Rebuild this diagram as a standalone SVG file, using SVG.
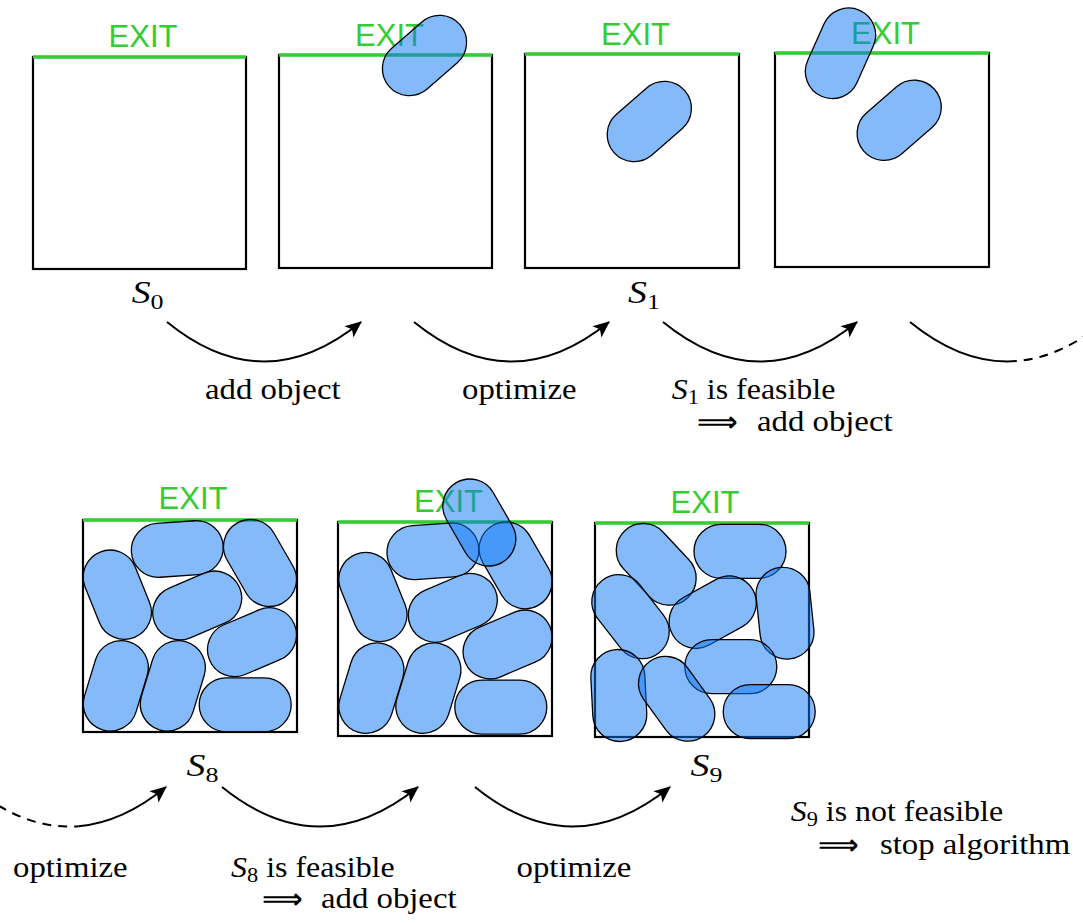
<svg xmlns="http://www.w3.org/2000/svg" xmlns:xlink="http://www.w3.org/1999/xlink" width="1083" height="923" viewBox="0 0 1083 923">
<style>
.box{fill:none;stroke:#000;stroke-width:2.2}
.exitline{stroke:#33cc33;stroke-width:3.5}
.exit{font-family:"Liberation Sans",Arial,sans-serif;font-size:31px;fill:#33cc33;text-anchor:middle}
.pill{fill:#0a75f5;fill-opacity:0.5;stroke:#000;stroke-width:1.3}
.lbl{font-family:"Liberation Serif","Times New Roman",serif;font-size:28.5px;fill:#000}
.st{font-family:"Liberation Serif","Times New Roman",serif;font-size:32px;fill:#000}
.arr{font-family:"DejaVu Sans",sans-serif;font-size:27px;font-weight:bold;fill:#000}
.conn{fill:none;stroke:#000;stroke-width:2}
.dash{stroke-dasharray:9 7}
</style>
<defs>
<rect id="pill" x="-46" y="-27" width="92" height="54" rx="27" ry="27"/>
<rect id="pillL" x="-47" y="-27" width="94" height="54" rx="27" ry="27"/>
<marker id="ah" markerUnits="userSpaceOnUse" markerWidth="20" markerHeight="20" viewBox="-16 -8 18 16" refX="0" refY="0" orient="auto">
<path d="M1,0 L-14,-6.5 L-10.5,0 L-14,6.5 Z" fill="#000"/>
</marker>
</defs>

<g id="state-s0">
<rect class="box" x="33" y="57" width="213" height="212"/>
<line class="exitline" x1="33" y1="57" x2="246" y2="57"/>
<text class="exit" x="143" y="46.7">EXIT</text>
</g>

<g id="state-s0-added">
<rect class="box" x="279" y="55" width="213" height="213"/>
<line class="exitline" x1="279" y1="55" x2="492" y2="55"/>
<text class="exit" x="389.5" y="46">EXIT</text>
<use class="pill" xlink:href="#pillL" href="#pillL" transform="translate(424.5,55.5) rotate(-41)"/>
</g>

<g id="state-s1">
<rect class="box" x="525" y="54" width="214" height="214"/>
<line class="exitline" x1="525" y1="54" x2="739" y2="54"/>
<text class="exit" x="635.5" y="45">EXIT</text>
<use class="pill" xlink:href="#pillL" href="#pillL" transform="translate(649.3,121.5) rotate(-41)"/>
</g>

<g id="state-s1-added">
<rect class="box" x="775" y="53" width="214" height="214"/>
<line class="exitline" x1="775" y1="53" x2="989" y2="53"/>
<text class="exit" x="885.5" y="43.5">EXIT</text>
<use class="pill" xlink:href="#pillL" href="#pillL" transform="translate(840.5,53.3) rotate(-66)"/>
<use class="pill" xlink:href="#pillL" href="#pillL" transform="translate(899.2,120.3) rotate(-41)"/>
</g>

<g id="state-s8">
<rect class="box" x="83" y="520" width="214" height="212"/>
<line class="exitline" x1="83" y1="520" x2="297" y2="520"/>
<text class="exit" x="193" y="509">EXIT</text>
<use class="pill" xlink:href="#pill" href="#pill" transform="translate(177.3,549) rotate(-4)"/>
<use class="pill" xlink:href="#pill" href="#pill" transform="translate(260,563) rotate(60)"/>
<use class="pill" xlink:href="#pill" href="#pill" transform="translate(117.3,594.7) rotate(68)"/>
<use class="pill" xlink:href="#pill" href="#pill" transform="translate(197.2,605.5) rotate(-23)"/>
<use class="pill" xlink:href="#pill" href="#pill" transform="translate(252,642.2) rotate(-23)"/>
<use class="pill" xlink:href="#pill" href="#pill" transform="translate(115.8,685.8) rotate(-73)"/>
<use class="pill" xlink:href="#pill" href="#pill" transform="translate(172.8,685.8) rotate(-73)"/>
<use class="pill" xlink:href="#pill" href="#pill" transform="translate(245.2,704.8)"/>
</g>

<g id="state-s8-added">
<rect class="box" x="338" y="522" width="214" height="214"/>
<line class="exitline" x1="338" y1="522" x2="552" y2="522"/>
<text class="exit" x="448.5" y="512">EXIT</text>
<use class="pill" xlink:href="#pill" href="#pill" transform="translate(432.9,551.3) rotate(-4)"/>
<use class="pill" xlink:href="#pill" href="#pill" transform="translate(515.6,565.3) rotate(60)"/>
<use class="pill" xlink:href="#pill" href="#pill" transform="translate(372.9,597) rotate(68)"/>
<use class="pill" xlink:href="#pill" href="#pill" transform="translate(452.8,607.8) rotate(-23)"/>
<use class="pill" xlink:href="#pill" href="#pill" transform="translate(507.6,644.5) rotate(-23)"/>
<use class="pill" xlink:href="#pill" href="#pill" transform="translate(371.4,688.1) rotate(-73)"/>
<use class="pill" xlink:href="#pill" href="#pill" transform="translate(428.4,688.1) rotate(-73)"/>
<use class="pill" xlink:href="#pill" href="#pill" transform="translate(500.8,707.1)"/>
<use class="pill" xlink:href="#pill" href="#pill" transform="translate(479.3,522.5) rotate(60)"/>
</g>

<g id="state-s9">
<rect class="box" x="595" y="523" width="214" height="214"/>
<line class="exitline" x1="595" y1="523" x2="809" y2="523"/>
<text class="exit" x="705" y="513">EXIT</text>
<use class="pill" xlink:href="#pill" href="#pill" transform="translate(656.2,564.3) rotate(47)"/>
<use class="pill" xlink:href="#pill" href="#pill" transform="translate(740,551.3)"/>
<use class="pill" xlink:href="#pill" href="#pill" transform="translate(630.5,616.7) rotate(52)"/>
<use class="pill" xlink:href="#pill" href="#pill" transform="translate(712.7,612.2) rotate(-29)"/>
<use class="pill" xlink:href="#pill" href="#pill" transform="translate(785,613.2) rotate(84)"/>
<use class="pill" xlink:href="#pill" href="#pill" transform="translate(730.8,666.7)"/>
<use class="pill" xlink:href="#pill" href="#pill" transform="translate(618.8,695.5) rotate(87)"/>
<use class="pill" xlink:href="#pill" href="#pill" transform="translate(676.7,698.8) rotate(54)"/>
<use class="pill" xlink:href="#pill" href="#pill" transform="translate(769.2,711.7)"/>
</g>

<g id="connectors">
<path class="conn" d="M167,322 Q264,401 361,322" marker-end="url(#ah)"/>
<path class="conn" d="M414,322 Q511.5,401 609,322" marker-end="url(#ah)"/>
<path class="conn" d="M663,322 Q760,401 857,322" marker-end="url(#ah)"/>
<path class="conn" d="M910,322 Q963.35,365.45 1016.8,361.1"/>
<path class="conn dash" stroke-dashoffset="9" d="M1016.8,361.1 Q1060.35,357.55 1104,322"/>
<path class="conn dash" d="M-28,787 Q25.35,830.45 78.7,826.2"/>
<path class="conn" d="M78.7,826.2 Q122.35,822.55 166,787" marker-end="url(#ah)"/>
<path class="conn" d="M222,787 Q320,866 418,787" marker-end="url(#ah)"/>
<path class="conn" d="M475,787 Q572.5,866 670,787" marker-end="url(#ah)"/>
</g>

<g id="labels">
<text class="st" transform="translate(131.7,303) scale(1.18,1)"><tspan font-style="italic">S</tspan><tspan font-size="22" dy="6">0</tspan></text>
<text class="st" transform="translate(628,303) scale(1.18,1)"><tspan font-style="italic">S</tspan><tspan font-size="22" dy="6">1</tspan></text>
<text class="st" transform="translate(186.5,776) scale(1.18,1)"><tspan font-style="italic">S</tspan><tspan font-size="22" dy="6">8</tspan></text>
<text class="st" transform="translate(690.6,776) scale(1.18,1)"><tspan font-style="italic">S</tspan><tspan font-size="22" dy="6">9</tspan></text>

<text class="lbl" transform="translate(205,399) scale(1.15,1)">add object</text>
<text class="lbl" transform="translate(462,399) scale(1.15,1)">optimize</text>
<text class="lbl" transform="translate(671.7,399) scale(1.12,1)"><tspan font-style="italic">S</tspan><tspan font-size="20" dy="5">1</tspan><tspan dy="-5"> is feasible</tspan></text>
<text class="arr" transform="translate(697,431) scale(1.05,1)">⟹</text>
<text class="lbl" transform="translate(757,431) scale(1.15,1)">add object</text>

<text class="lbl" transform="translate(13,877) scale(1.15,1)">optimize</text>
<text class="lbl" transform="translate(231,877) scale(1.12,1)"><tspan font-style="italic">S</tspan><tspan font-size="20" dy="5">8</tspan><tspan dy="-5"> is feasible</tspan></text>
<text class="arr" transform="translate(262,908) scale(1.05,1)">⟹</text>
<text class="lbl" transform="translate(321,908) scale(1.15,1)">add object</text>
<text class="lbl" transform="translate(516.6,877) scale(1.15,1)">optimize</text>

<text class="lbl" transform="translate(790.7,821) scale(1.12,1)"><tspan font-style="italic">S</tspan><tspan font-size="20" dy="5">9</tspan><tspan dy="-5"> is not feasible</tspan></text>
<text class="arr" transform="translate(818,854) scale(1.05,1)">⟹</text>
<text class="lbl" transform="translate(880,854) scale(1.15,1)">stop algorithm</text>
</g>
</svg>
